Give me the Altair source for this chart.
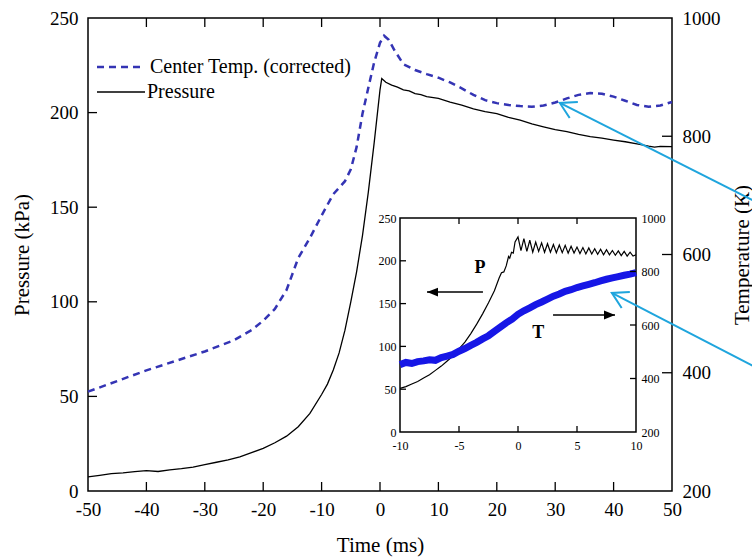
import altair as alt
import pandas as pd

FONT = "Liberation Serif"
BLUE_DASH = "#3434b4"
BLUE_T = "#1616e6"
CYAN = "#1fa5dd"

# ---------------- main figure data ----------------
main_time_p = [-50, -48, -46, -44, -42, -40, -38, -36, -34, -32, -30, -28, -26, -24, -22,
               -20, -18, -16, -14, -12, -10, -9, -8, -7, -6, -5, -4, -3, -2, -1, -0.5, 0, 0.3,
               1, 2, 3, 4, 5, 6, 7, 8, 10, 12, 14, 16, 18, 20, 22, 24, 26, 28, 30, 32, 34,
               36, 38, 40, 42, 44, 46, 47, 48, 50]
main_pressure = [7.5, 8.3, 9.2, 9.6, 10.2, 10.8, 10.3, 11.2, 11.8, 12.6, 14.0, 15.2, 16.4, 18.0, 20.3,
                 22.5, 25.5, 29.0, 34.0, 41.0, 51, 56.5, 64, 73, 85, 100, 116, 135, 158, 184, 198, 212, 218,
                 216, 214.5, 213.5, 212, 211.5, 210, 209.5, 208.5, 207.5, 205.5, 204, 202, 200.5, 199.5,
                 197.5, 196, 194, 192.5, 191, 190, 188.5, 187.3, 186.5, 185.5, 184.6, 183.5, 182.3,
                 181.8, 182.2, 182]

main_time_t = [-50, -45, -40, -35, -30, -25, -22, -20, -18, -16, -14, -12, -10, -8, -6, -5, -4, -3,
               -2, -1, 0, 0.7, 1.5, 2.5, 4, 6, 8, 10, 12, 14, 16, 18, 20, 22, 24, 26, 28, 30, 32, 34,
               36, 38, 40, 42, 44, 46, 48, 50]
main_temp = [368, 386, 404, 420, 436, 455, 472, 488, 508, 540, 594, 628, 666, 702, 724, 744, 782, 838,
             882, 925, 958, 970, 963, 945, 922, 912, 905, 899, 891, 881, 870, 861, 856, 853, 851, 850,
             852, 857, 864, 870, 873, 872, 867, 860, 853, 850, 852, 858]

# ---------------- inset data ----------------
inset_time_p = [-10, -9.5, -9, -8.5, -8, -7.5, -7, -6.5, -6, -5.5, -5, -4.5, -4, -3.5, -3, -2.5, -2,
                -1.6, -1.4, -1.2, -1.0, -0.8, -0.7, -0.55, -0.4, -0.25,
                0, 0.25, 0.5, 0.75, 1, 1.25, 1.5, 1.75, 2, 2.25, 2.5, 2.75, 3, 3.25, 3.5, 3.75,
                4, 4.25, 4.5, 4.75, 5, 5.25, 5.5, 5.75, 6, 6.25, 6.5, 6.75, 7, 7.25, 7.5, 7.75,
                8, 8.25, 8.5, 8.75, 9, 9.25, 9.5, 9.75, 10]
inset_pressure = [51, 53, 56, 59, 63, 67, 72, 77, 83, 89, 97, 105, 115, 126, 138, 151, 165,
                  180, 186, 187, 194, 205, 203, 210, 209, 222,
                  228, 212, 226, 211, 224, 210, 222, 211, 221, 210, 220, 210, 219, 209.5, 218.5, 209.5,
                  218, 209, 217, 209, 216, 208.5, 215.5, 208, 215, 208, 214, 207.5, 213.5, 207, 213, 207,
                  212, 206.5, 211.5, 206, 211, 205.5, 210, 205.5, 207]

inset_time_t = [-10, -9.5, -9, -8.5, -8, -7.5, -7, -6.5, -6, -5.5, -5, -4.5, -4, -3.5, -3, -2.5, -2,
                -1.5, -1, -0.5, 0, 0.5, 1, 1.5, 2, 2.5, 3, 3.5, 4, 4.5, 5, 5.5, 6, 6.5, 7, 7.5, 8,
                8.5, 9, 9.5, 10]
inset_temp = [452, 460, 456, 463, 466, 470, 468, 478, 484, 490, 502, 512, 524, 535, 548, 560, 576,
              592, 608, 622, 640, 653, 664, 676, 686, 697, 708, 716, 726, 732, 740, 746, 752, 758,
              765, 771, 776, 781, 786, 790, 796]

# ---------------- axes ----------------
main_x_domain = [-50, 50]
main_p_domain = [0, 250]
main_t_domain = [200, 1000]
inset_x_domain = [-10, 10]
inset_p_domain = [0, 250]
inset_t_domain = [200, 1000]

main_x_ticks = [-50, -40, -30, -20, -10, 0, 10, 20, 30, 40, 50]
main_p_ticks = [0, 50, 100, 150, 200, 250]
main_t_ticks = [200, 400, 600, 800, 1000]
inset_x_ticks = [-10, -5, 0, 5, 10]
inset_p_ticks = [0, 50, 100, 150, 200, 250]
inset_t_ticks = [200, 400, 600, 800, 1000]

legend_labels = ["Center Temp. (corrected)", "Pressure"]

# ---------------- annotations ----------------
cyan_tip_t = [30.8, 39.7]
cyan_tip_p = [205.1, 104.7]
cyan_tail_t = [65, 65]
cyan_tail_p = [151.8, 64.3]

inset_arrow_tip_t = [-7.71, 8.22]
inset_arrow_tail_t = [-2.97, 2.97]
inset_arrow_p = [163.5, 136.7]
inset_label_text = ["P", "T"]
inset_label_t = [-3.22, 1.72]
inset_label_p = [191.2, 115.3]

# ---------------- layout ----------------
W, H = 584, 473
IX0, IX1, IYB, IYT = 312, 548, 414, 200
LABEL_EXPR = "'' + datum.value"


def sc(domain, rng=None):
    if rng is None:
        return alt.Scale(domain=domain, nice=False, zero=False)
    return alt.Scale(domain=domain, range=rng, nice=False, zero=False)


mx, mp, mt = sc(main_x_domain), sc(main_p_domain), sc(main_t_domain)
ix, ip, it = sc(inset_x_domain, [IX0, IX1]), sc(inset_p_domain, [IYB, IYT]), sc(inset_t_domain, [IYB, IYT])
ax, ap = sc(main_x_domain), sc(main_p_domain)


def axis(orient, values, size, pad, **kw):
    return alt.Axis(orient=orient, values=values, ticks=False, tickSize=0, domain=False, grid=False,
                    labelFontSize=size, labelPadding=pad, labelFont=FONT, labelColor="black",
                    labelFlush=False, labelOverlap=False, labelExpr=LABEL_EXPR,
                    titleFont=FONT, titleColor="black", titleFontWeight="normal", **kw)


AX_MX = axis("bottom", main_x_ticks, 19, 9, title="Time (ms)", titleFontSize=21, titlePadding=15)
AX_MP = axis("left", main_p_ticks, 19, 10, title="Pressure (kPa)", titleFontSize=21, titlePadding=17)
AX_MT = axis("right", main_t_ticks, 19, 10, title="Temperature (K)", titleFontSize=21,
             titlePadding=11, titleAngle=270, titleBaseline="top")
AX_IX = axis("bottom", inset_x_ticks, 12, 8, offset=-(H - IYB), title=None)
AX_IP = axis("left", inset_p_ticks, 12, 4, offset=-IX0, title=None)
AX_IT = axis("right", inset_t_ticks, 12, 5, offset=-(W - IX1), title=None)


def xticks(values, base, xs, ys, xa, ya, length, width=1.3):
    df = pd.DataFrame({"v": values, "b": base})
    return alt.Chart(df).mark_rule(color="black", strokeWidth=width, y2Offset=length).encode(
        x=alt.X("v:Q", scale=xs, axis=xa), y=alt.Y("b:Q", scale=ys, axis=ya), y2="b:Q")


def yticks(values, base, xs, ys, xa, ya, length, width=1.3):
    df = pd.DataFrame({"v": values, "b": base})
    return alt.Chart(df).mark_rule(color="black", strokeWidth=width, x2Offset=length).encode(
        y=alt.Y("v:Q", scale=ys, axis=ya), x=alt.X("b:Q", scale=xs, axis=xa), x2="b:Q")


# ---------------- main: pressure ----------------
main_p_line = alt.Chart(pd.DataFrame({"t": main_time_p, "p": main_pressure})).mark_line(
    color="black", strokeWidth=1.3).encode(
    x=alt.X("t:Q", scale=mx, axis=AX_MX),
    y=alt.Y("p:Q", scale=mp, axis=AX_MP),
)
main_p_layer = alt.layer(
    main_p_line,
    xticks(main_x_ticks[1:-1], main_p_domain[0], mx, mp, AX_MX, AX_MP, -9),
    xticks(main_x_ticks[1:-1], main_p_domain[1], mx, mp, AX_MX, AX_MP, 9),
    yticks(main_p_ticks[1:-1], main_x_domain[0], mx, mp, AX_MX, AX_MP, 9),
)

# ---------------- main: temperature ----------------
main_t_line = alt.Chart(pd.DataFrame({"t": main_time_t, "T": main_temp})).mark_line(
    color=BLUE_DASH, strokeWidth=2.5, strokeDash=[7, 5]).encode(
    x=alt.X("t:Q", scale=mx, axis=AX_MX),
    y=alt.Y("T:Q", scale=mt, axis=AX_MT),
)
main_t_layer = alt.layer(
    main_t_line,
    yticks(main_t_ticks[1:-1], main_x_domain[1], mx, mt, AX_MX, AX_MT, -10),
)

# ---------------- legend ----------------
leg_df1 = pd.DataFrame({"s": [legend_labels[0]]})
leg_df2 = pd.DataFrame({"s": [legend_labels[1]]})
legend_layer = alt.layer(
    alt.Chart(leg_df1).mark_rule(color=BLUE_DASH, strokeWidth=2.5, strokeDash=[7, 5]).encode(
        x=alt.value(9), x2=alt.value(52), y=alt.value(49)),
    alt.Chart(leg_df1).mark_text(align="left", baseline="middle", font=FONT, fontSize=20,
                                 color="black").encode(x=alt.value(62), y=alt.value(49), text="s:N"),
    alt.Chart(leg_df2).mark_rule(color="black", strokeWidth=1.3).encode(
        x=alt.value(9), x2=alt.value(57), y=alt.value(74)),
    alt.Chart(leg_df2).mark_text(align="left", baseline="middle", font=FONT, fontSize=20,
                                 color="black").encode(x=alt.value(59), y=alt.value(74), text="s:N"),
)

main_group = alt.layer(main_p_layer, main_t_layer, legend_layer).resolve_scale(y="independent")

# ---------------- inset ----------------
frame = alt.Chart(pd.DataFrame({"x0": [inset_x_domain[0]], "x1": [inset_x_domain[1]],
                                "y0": [inset_p_domain[0]], "y1": [inset_p_domain[1]]})).mark_rect(
    fill="white", stroke="black", strokeWidth=1.5).encode(
    x=alt.X("x0:Q", scale=ix, axis=AX_IX), x2="x1:Q",
    y=alt.Y("y0:Q", scale=ip, axis=AX_IP), y2="y1:Q")

inset_p_line = alt.Chart(pd.DataFrame({"t": inset_time_p, "p": inset_pressure})).mark_line(
    color="black", strokeWidth=1.2).encode(
    x=alt.X("t:Q", scale=ix, axis=AX_IX),
    y=alt.Y("p:Q", scale=ip, axis=AX_IP),
)

arrow_df = pd.DataFrame({"t0": inset_arrow_tail_t, "t1": inset_arrow_tip_t, "p": inset_arrow_p})
arrow_shafts = alt.Chart(arrow_df).mark_rule(color="black", strokeWidth=1.5).encode(
    x=alt.X("t0:Q", scale=ix, axis=AX_IX), x2="t1:Q", y=alt.Y("p:Q", scale=ip, axis=AX_IP))
arrow_left = alt.Chart(arrow_df.iloc[[0]]).mark_point(
    shape="M0,0L1,-0.4L1,0.4Z", filled=True, size=484, color="black", opacity=1).encode(
    x=alt.X("t1:Q", scale=ix, axis=AX_IX), y=alt.Y("p:Q", scale=ip, axis=AX_IP))
arrow_right = alt.Chart(arrow_df.iloc[[1]]).mark_point(
    shape="M0,0L-1,-0.4L-1,0.4Z", filled=True, size=484, color="black", opacity=1).encode(
    x=alt.X("t1:Q", scale=ix, axis=AX_IX), y=alt.Y("p:Q", scale=ip, axis=AX_IP))
pt_labels = alt.Chart(pd.DataFrame({"s": inset_label_text, "t": inset_label_t, "p": inset_label_p})).mark_text(
    font=FONT, fontSize=18, fontWeight="bold", color="black").encode(
    x=alt.X("t:Q", scale=ix, axis=AX_IX), y=alt.Y("p:Q", scale=ip, axis=AX_IP), text="s:N")

inset_p_layer = alt.layer(
    frame,
    inset_p_line,
    xticks(inset_x_ticks[1:-1], inset_p_domain[0], ix, ip, AX_IX, AX_IP, -6),
    xticks(inset_x_ticks[1:-1], inset_p_domain[1], ix, ip, AX_IX, AX_IP, 6),
    yticks(inset_p_ticks[1:-1], inset_x_domain[0], ix, ip, AX_IX, AX_IP, 6),
    arrow_shafts, arrow_left, arrow_right, pt_labels,
)

inset_t_line = alt.Chart(pd.DataFrame({"t": inset_time_t, "T": inset_temp})).mark_line(
    color=BLUE_T, strokeWidth=7).encode(
    x=alt.X("t:Q", scale=ix, axis=AX_IX),
    y=alt.Y("T:Q", scale=it, axis=AX_IT),
)
inset_t_layer = alt.layer(
    inset_t_line,
    yticks(inset_t_ticks[1:-1], inset_x_domain[1], ix, it, AX_IX, AX_IT, -6),
)

inset_group = alt.layer(inset_p_layer, inset_t_layer).resolve_scale(y="independent")

# ---------------- cyan annotation arrows ----------------
cy_df = pd.DataFrame({"t0": cyan_tip_t, "p0": cyan_tip_p, "t1": cyan_tail_t, "p1": cyan_tail_p})
cy_shaft = alt.Chart(cy_df).mark_rule(color=CYAN, strokeWidth=2).encode(
    x=alt.X("t0:Q", scale=ax, axis=None), x2="t1:Q",
    y=alt.Y("p0:Q", scale=ap, axis=None), y2="p1:Q")
cy_head = alt.Chart(cy_df).mark_point(
    shape="M1,-0.577L0,0L1,0.577", filled=False, size=973, strokeWidth=2, color=CYAN,
    angle=27, opacity=1).encode(
    x=alt.X("t0:Q", scale=ax, axis=None), y=alt.Y("p0:Q", scale=ap, axis=None))
cyan_layer = alt.layer(cy_shaft, cy_head)

chart = alt.layer(main_group, inset_group, cyan_layer).resolve_scale(
    x="independent", y="independent"
).properties(
    width=W, height=H,
    padding={"left": 88, "top": 18, "right": 80, "bottom": 66},
    autosize=alt.AutoSizeParams(type="none"),
    background="white",
).configure_view(
    stroke="black", strokeWidth=1.5
).configure_axis(
    grid=False
)

chart.save("out.html", embed_options={"renderer": "svg", "actions": False})
